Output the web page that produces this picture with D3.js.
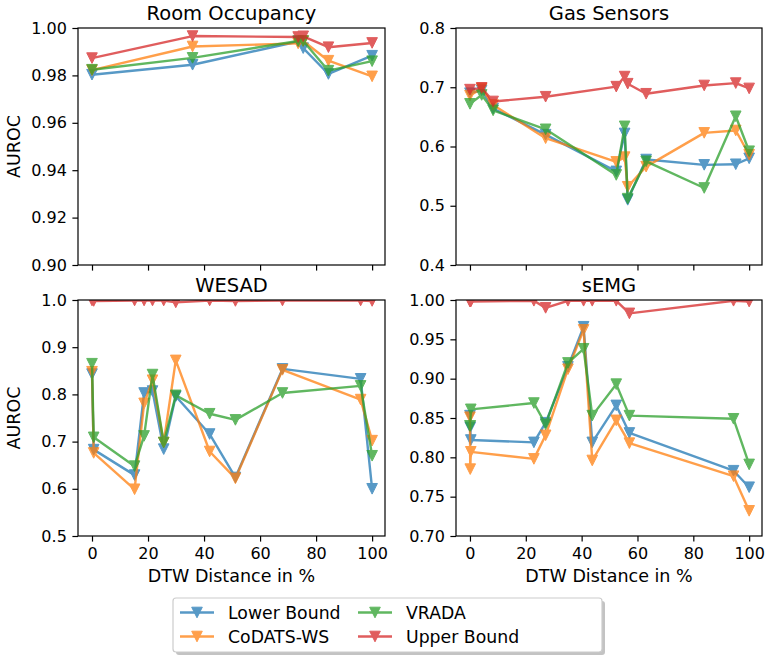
<!DOCTYPE html>
<html>
<head>
<meta charset="utf-8">
<script src="https://cdn.jsdelivr.net/npm/d3@7"></script>
<style>
  body { margin: 0; background: #fff; }
  svg { font-family: "DejaVu Sans", sans-serif; }
</style>
</head>
<body>
<script>
// series names + colours (tab10)
var SERIES = ['Lower Bound', 'CoDATS-WS', 'VRADA', 'Upper Bound']
var COLORS = ['#1f77b4', '#ff7f0e', '#2ca02c', '#d62728']
var X_TICKS = [0, 20, 40, 60, 80, 100]

// Room Occupancy
var ro_x = [0, 35.9, 73.6, 75.4, 84.4, 100]
var ro_lower = [0.9803, 0.9845, 0.9943, 0.9915, 0.9806, 0.9883]
var ro_codats = [0.9822, 0.9922, 0.9935, 0.9945, 0.9862, 0.9796]
var ro_vrada = [0.9824, 0.9874, 0.9945, 0.9945, 0.9820, 0.9860]
var ro_upper = [0.9873, 0.9966, 0.9962, 0.9965, 0.9919, 0.9937]
var ro_ticks = [0.90, 0.92, 0.94, 0.96, 0.98, 1.00]

// Gas Sensors
var gas_x = [0, 4.2, 8.3, 27.1, 52.4, 55.4, 56.5, 63.1, 83.9, 95.2, 100]
var gas_lower = [0.690, 0.695, 0.664, 0.620, 0.558, 0.622, 0.510, 0.578, 0.569, 0.570, 0.580]
var gas_codats = [0.686, 0.698, 0.670, 0.614, 0.574, 0.582, 0.532, 0.566, 0.623, 0.627, 0.586]
var gas_vrada = [0.672, 0.687, 0.661, 0.629, 0.552, 0.634, 0.512, 0.575, 0.530, 0.651, 0.592]
var gas_upper = [0.696, 0.699, 0.676, 0.684, 0.701, 0.718, 0.706, 0.689, 0.703, 0.707, 0.698]
var gas_ticks = [0.4, 0.5, 0.6, 0.7, 0.8]

// WESAD
var wesad_x = [0, 0.6, 15.2, 18.6, 21.6, 25.6, 29.9, 42, 51.2, 68, 95.9, 100]
var wesad_lower = [0.843, 0.683, 0.629, 0.803, 0.807, 0.684, 0.796, 0.716, 0.624, 0.854, 0.833, 0.600]
var wesad_codats = [0.848, 0.676, 0.599, 0.781, 0.830, 0.698, 0.872, 0.679, 0.622, 0.852, 0.789, 0.702]
var wesad_vrada = [0.865, 0.709, 0.648, 0.712, 0.842, 0.698, 0.798, 0.759, 0.746, 0.803, 0.818, 0.670]
var wesad_upper = [0.999, 0.998, 0.999, 0.999, 0.999, 0.999, 0.995, 0.999, 0.998, 0.999, 0.999, 0.998]
var wesad_ticks = [0.5, 0.6, 0.7, 0.8, 0.9, 1.0]

// sEMG
var semg_x = [0, 0.1, 0.3, 22.9, 27.1, 35.1, 40.7, 43.8, 52.4, 57.1, 94.4, 100]
var semg_lower = [0.853, 0.838, 0.822, 0.819, 0.844, 0.915, 0.966, 0.819, 0.866, 0.831, 0.783, 0.762]
var semg_codats = [0.851, 0.785, 0.807, 0.798, 0.828, 0.912, 0.962, 0.796, 0.847, 0.818, 0.776, 0.732]
var semg_vrada = [0.840, 0.840, 0.861, 0.869, 0.842, 0.920, 0.938, 0.853, 0.893, 0.853, 0.849, 0.791]
var semg_upper = [0.998, 0.998, 0.998, 0.999, 0.990, 0.999, 0.999, 0.999, 0.999, 0.983, 0.999, 0.998]
var semg_ticks = [0.70, 0.75, 0.80, 0.85, 0.90, 0.95, 1.00]

var W = 767, H = 656
var COLS = [[78, 385], [456, 762]]
var ROWS = [[28, 265], [300, 536]]

var panels = [
  { title: 'Room Occupancy', xs: ro_x, ys: [ro_lower, ro_codats, ro_vrada, ro_upper], ticks: ro_ticks, fmt: '.2f', col: 0, row: 0 },
  { title: 'Gas Sensors', xs: gas_x, ys: [gas_lower, gas_codats, gas_vrada, gas_upper], ticks: gas_ticks, fmt: '.1f', col: 1, row: 0 },
  { title: 'WESAD', xs: wesad_x, ys: [wesad_lower, wesad_codats, wesad_vrada, wesad_upper], ticks: wesad_ticks, fmt: '.1f', col: 0, row: 1 },
  { title: 'sEMG', xs: semg_x, ys: [semg_lower, semg_codats, semg_vrada, semg_upper], ticks: semg_ticks, fmt: '.2f', col: 1, row: 1 }
]

var svg = d3.select('body').append('svg').attr('width', W).attr('height', H)

// downward triangle marker, like matplotlib 'v'
function tri(g, color){
  g.append('path')
   .attr('d', 'M-5.3,-5.3L5.3,-5.3L0,5.3Z')
   .attr('fill', color)
   .attr('stroke', color)
   .attr('stroke-width', 1)
}

panels.forEach(function(p, pi){
  var x0 = COLS[p.col][0], x1 = COLS[p.col][1]
  var y0 = ROWS[p.row][0], y1 = ROWS[p.row][1]
  var ext = d3.extent(p.ticks)
  var x = d3.scaleLinear().domain([-5, 104.6]).range([x0, x1])
  var y = d3.scaleLinear().domain(ext).range([y1, y0])

  svg.append('clipPath').attr('id', 'clip' + pi)
     .append('rect').attr('x', x0).attr('y', y0).attr('width', x1 - x0).attr('height', y1 - y0)

  var plot = svg.append('g').attr('clip-path', 'url(#clip' + pi + ')')
  var line = d3.line().x(function(d){ return x(d[0]) }).y(function(d){ return y(d[1]) })

  p.ys.forEach(function(vals, si){
    var pts = p.xs.map(function(xv, i){ return [xv, vals[i]] })
    var g = plot.append('g').attr('opacity', 0.75)
    g.append('path').datum(pts)
     .attr('d', line)
     .attr('fill', 'none')
     .attr('stroke', COLORS[si])
     .attr('stroke-width', 2.4)
     .attr('stroke-linejoin', 'round')
    pts.forEach(function(d){
      tri(g.append('g').attr('transform', 'translate(' + x(d[0]) + ',' + y(d[1]) + ')'), COLORS[si])
    })
  })

  // axes
  var ya = svg.append('g').attr('transform', 'translate(' + x0 + ',0)')
    .call(d3.axisLeft(y).tickValues(p.ticks).tickFormat(d3.format(p.fmt)).tickSize(5.6).tickPadding(5.6))
  ya.select('.domain').remove()
  ya.selectAll('text').attr('font-size', '16px').attr('font-family', 'DejaVu Sans').attr('fill', '#000')
  ya.selectAll('line').attr('stroke', '#000').attr('stroke-width', 1.2)

  var xa = svg.append('g').attr('transform', 'translate(0,' + y1 + ')')
    .call(d3.axisBottom(x).tickValues(X_TICKS).tickSize(5.6).tickPadding(5.6))
  xa.select('.domain').remove()
  xa.selectAll('line').attr('stroke', '#000').attr('stroke-width', 1.2)
  if(p.row === 1){
    xa.selectAll('text').attr('font-size', '16px').attr('font-family', 'DejaVu Sans').attr('fill', '#000')
      .attr('y', 12).attr('dy', '0.71em')
  }else{
    xa.selectAll('text').remove()
  }

  svg.append('rect')
     .attr('x', x0).attr('y', y0).attr('width', x1 - x0).attr('height', y1 - y0)
     .attr('fill', 'none').attr('stroke', '#000').attr('stroke-width', 1.2)

  svg.append('text')
     .attr('x', (x0 + x1) / 2).attr('y', y0 - 8)
     .attr('text-anchor', 'middle').attr('font-size', '19.5px')
     .text(p.title)

  if(p.col === 0){
    svg.append('text')
       .attr('transform', 'translate(' + 20 + ',' + ((y0 + y1) / 2) + ') rotate(-90)')
       .attr('text-anchor', 'middle').attr('font-size', '17.5px')
       .text('AUROC')
  }
  if(p.row === 1){
    svg.append('text')
       .attr('x', (x0 + x1) / 2).attr('y', 582)
       .attr('text-anchor', 'middle').attr('font-size', '17.5px')
       .text('DTW Distance in %')
  }
})

// legend
var lg = svg.append('g')
lg.append('rect').attr('x', 176).attr('y', 601).attr('width', 429).attr('height', 54)
  .attr('rx', 3).attr('fill', '#888').attr('opacity', 0.5)
lg.append('rect').attr('x', 173).attr('y', 598).attr('width', 429).attr('height', 54)
  .attr('rx', 3).attr('fill', '#fff').attr('stroke', '#ccc').attr('stroke-width', 1.2)

var legendPos = [[180, 612.5], [180, 636.5], [358, 612.5], [358, 636.5]]
SERIES.forEach(function(name, si){
  var lx = legendPos[si][0], ly = legendPos[si][1]
  var g = lg.append('g').attr('opacity', 0.75)
  g.append('line').attr('x1', lx).attr('x2', lx + 34).attr('y1', ly).attr('y2', ly)
   .attr('stroke', COLORS[si]).attr('stroke-width', 2.4)
  tri(g.append('g').attr('transform', 'translate(' + (lx + 17) + ',' + ly + ')'), COLORS[si])
  lg.append('text').attr('x', lx + 48).attr('y', ly).attr('dy', '0.35em')
    .attr('font-size', '17.3px').text(name)
})
</script>
</body>
</html>
